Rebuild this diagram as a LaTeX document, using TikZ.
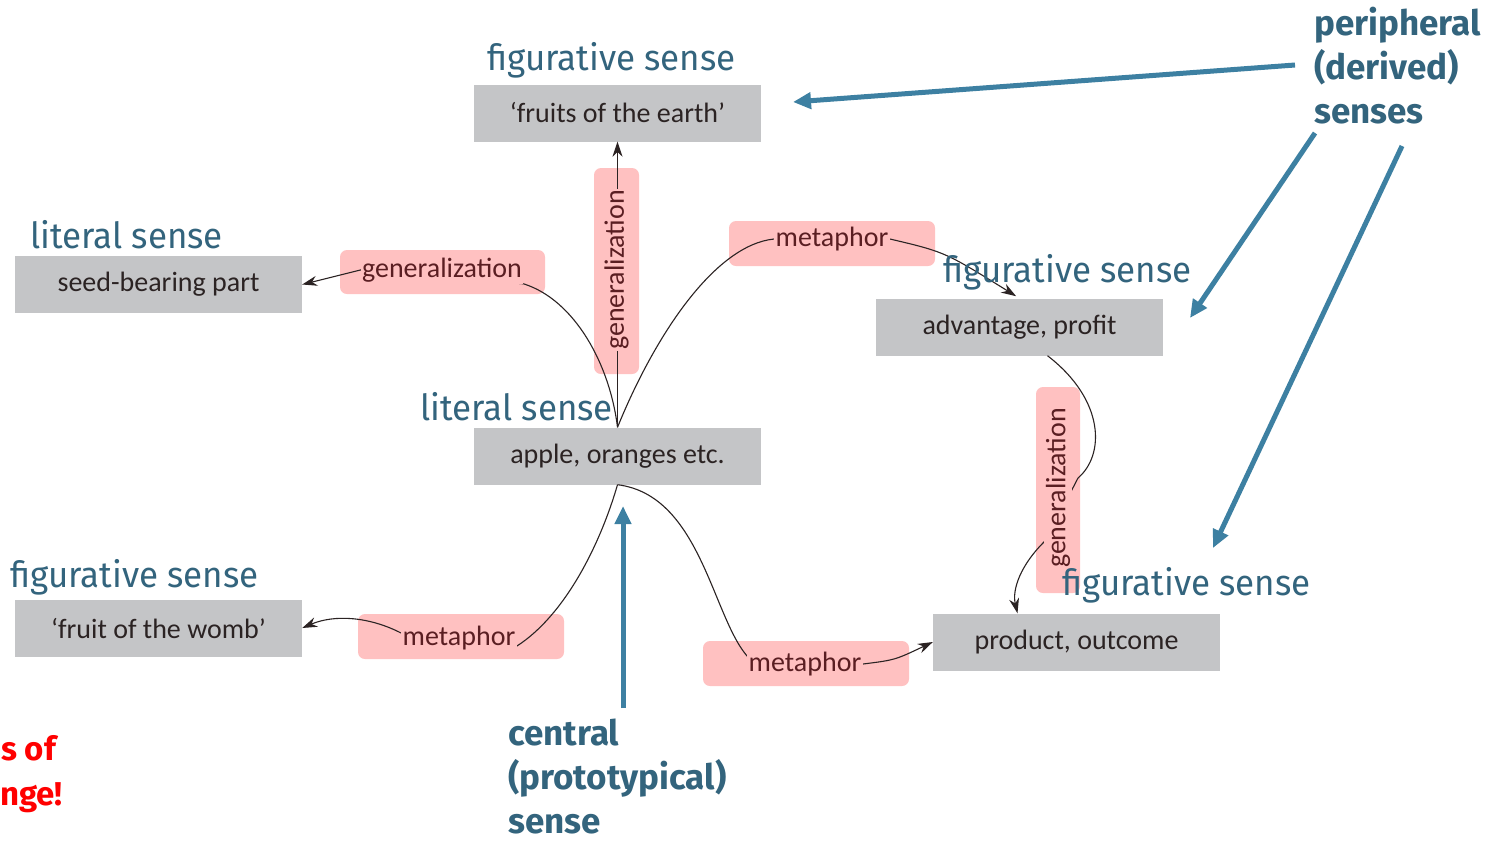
\documentclass[tikz,border=0pt]{standalone}
\usepackage{fontspec}
\setmainfont{Carlito}
\newfontfamily\headfont[FakeStretch=0.97]{Fira Sans}
\newfontfamily\calloutfont{Fira Sans}
\usetikzlibrary{arrows.meta,calc}
\pgfdeclarelayer{labels}
\pgfsetlayers{main,labels}

\definecolor{boxgray}{HTML}{C4C5C7}
\definecolor{labelpink}{HTML}{FFC1C1}
\definecolor{headteal}{HTML}{33647D}
\definecolor{pointteal}{HTML}{3D80A2}
\definecolor{inkdark}{HTML}{2B2323}
\definecolor{labelink}{HTML}{5A1E22}
\definecolor{alertred}{HTML}{FF0000}

\begin{document}
\begin{tikzpicture}[x=1pt,y=-1pt,
  sensebox/.style={fill=boxgray, minimum width=287pt, minimum height=57pt, inner sep=0pt,
    text=inkdark, font=\fontsize{28}{32}\selectfont},
  heading/.style={anchor=base west, inner sep=0pt, text=headteal,
    font=\headfont\fontsize{36}{40}\selectfont},
  relbox/.style={fill=labelpink, rounded corners=7pt, inner sep=0pt},
  reltext/.style={fill=labelpink, inner sep=1.5pt, text=labelink,
    font=\fontsize{28}{32}\selectfont},
  link/.style={draw=inkdark, line width=1.1pt, -{Stealth[length=15pt,width=10pt]}},
  pointer/.style={draw=pointteal, line width=5pt, -{Triangle[length=18pt,width=16pt]}},
  callout/.style={anchor=north west, inner sep=0pt, text=headteal, align=left,
    font=\calloutfont\bfseries\fontsize{35}{44}\selectfont},
  alert/.style={anchor=base west, inner sep=0pt, text=alertred,
    font=\calloutfont\bfseries\fontsize{33}{45}\selectfont},
]
\fill[white] (0,0) rectangle (1498,844);
\useasboundingbox (0,0) rectangle (1498,844);

% sense boxes
\node[sensebox] (t) at (617.5,113) {‘fruits of the earth’};
\node[sensebox] (s) at (158.5,284.5) {seed-bearing part};
\node[sensebox] (c) at (617.5,456) {apple, oranges etc.};
\node[sensebox] (a) at (1019.5,327) {advantage, profit};
\node[sensebox] (w) at (158.5,628) {‘fruit of the womb’};
\node[sensebox] (p) at (1076.5,642) {product, outcome};

% relation label backgrounds
\node[relbox, minimum width=205pt, minimum height=44pt] (gL) at (442.5,272) {};
\node[relbox, minimum width=45pt, minimum height=206pt] (gV) at (616.5,271) {};
\node[relbox, minimum width=206pt, minimum height=45pt] (mT) at (832,243.5) {};
\node[relbox, minimum width=206pt, minimum height=45pt] (mL) at (461,636.5) {};
\node[relbox, minimum width=206pt, minimum height=45pt] (mR) at (806,663.5) {};
\node[relbox, minimum width=44pt, minimum height=206pt] (gR) at (1058,490) {};

% relation words, kept above the connectors
\begin{pgfonlayer}{labels}
\node[reltext] (gLt) at (442,270) {generalization};
\node[reltext, rotate=90] (gVt) at (616.5,270) {generalization};
\node[reltext] (mTt) at (832,239) {metaphor};
\node[reltext] (mLt) at (459,638) {metaphor};
\node[reltext] (mRt) at (805,664) {metaphor};
\node[reltext, rotate=90] (gRt) at (1058,488) {generalization};
\end{pgfonlayer}

% connectors between senses
\draw[link] (c.north) -- (t.south);
\draw[link] (c.north) .. controls (610,365) and (575,300) .. (gLt.south east)
  -- (gLt.west) -- (s.east);
\draw[link, shorten >=4pt] (c.north) .. controls (655,335) and (715,245) .. (mTt.west)
  -- (mTt.east) .. controls (945,252) .. (a.north);
\draw[link] (c.south) .. controls (600,545) and (565,615) .. ($(mLt.east)+(0,8)$)
  -- ($(mLt.west)+(0,-5)$) .. controls (370,617) and (335,614) .. (w.east);
\draw[link] (c.south) .. controls (700,495) and (712,615) .. ($(mRt.west)+(0,-8)$)
  -- (mRt.east) .. controls (895,660) .. (p.west);
\draw[link] ($(a.south)+(28,0)$) .. controls (1105,400) and (1105,455) .. ($(gR.center)+(20,-12)$)
  -- ($(gR.center)+(-12,50)$) .. controls (1020,565) and (1012,590) .. ($(p.north)+(-59,0)$);

% headings
\begin{pgfonlayer}{labels}
\node[heading] (ht) at (487,70) {figurative sense};
\node[heading] (hs) at (30,248) {literal sense};
\node[heading] (hc) at (420,420) {literal sense};
\node[heading] (ha) at (943,282) {figurative sense};
\node[heading] (hw) at (10,587) {figurative sense};
\node[heading] (hp) at (1062,595) {figurative sense};
\end{pgfonlayer}

% callouts
\node[callout] (per) at (1314,7) {peripheral\\(derived)\\senses};
\node[callout] (cen) at (508,719) {central\\(prototypical)\\sense};
\node[alert] (r1) at (1,760) {s of};
\node[alert] (r2) at (0,805) {nge!};

\coordinate (pa1) at (1295,65);  \coordinate (pb1) at (793,102);
\coordinate (pa2) at (1315,133); \coordinate (pb2) at (1190,318);
\coordinate (pa3) at (1402,146); \coordinate (pb3) at (1213,548);
\coordinate (pc1) at (623,708);  \coordinate (pc2) at (623,506);
\draw[pointer] (pa1) -- (pb1);
\draw[pointer] (pa2) -- (pb2);
\draw[pointer] (pa3) -- (pb3);
\draw[pointer] (pc1) -- (pc2);
\end{tikzpicture}
\end{document}
